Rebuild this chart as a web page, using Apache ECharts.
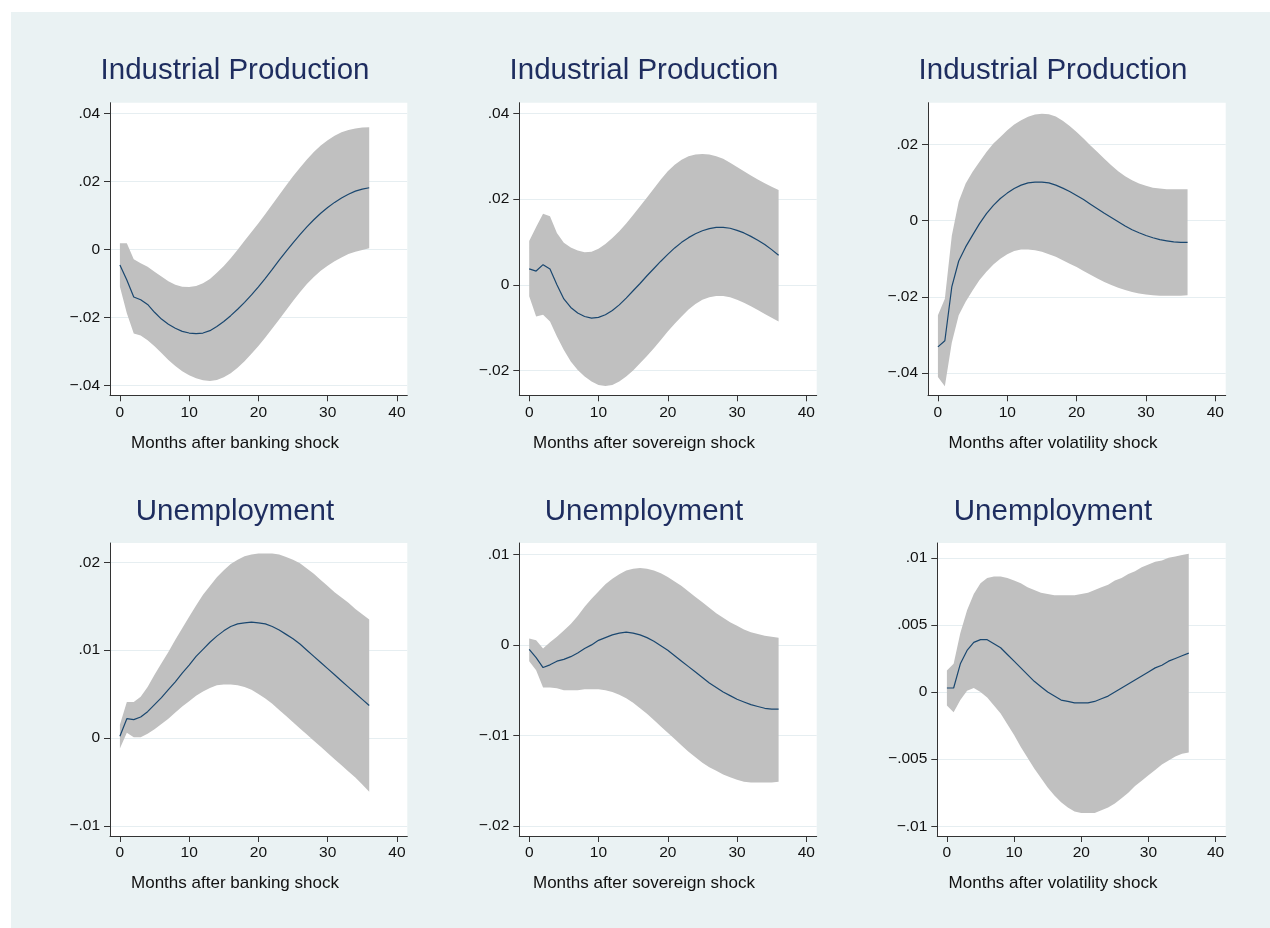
<!DOCTYPE html>
<html>
<head>
<meta charset="utf-8">
<title>Impulse responses</title>
<script src="https://cdn.jsdelivr.net/npm/echarts@6/dist/echarts.min.js"></script>
<style>
  html, body { margin: 0; padding: 0; background: #fff; }
  #chart {
    width: 1270px; height: 928px;
    background: linear-gradient(#eaf2f3, #eaf2f3) 11px 12px / 1259px 916px no-repeat, #fff;
  }
</style>
</head>
<body>
<div id="chart"></div>
<script>
// Horizon (months after the shock)
const months = [0, 1, 2, 3, 4, 5, 6, 7, 8, 9, 10, 11, 12, 13, 14, 15, 16, 17, 18,
  19, 20, 21, 22, 23, 24, 25, 26, 27, 28, 29, 30, 31, 32, 33, 34, 35, 36];

// Industrial production, banking shock
const ipBankIrf = [-0.0046, -0.0090, -0.0140, -0.0148, -0.0162, -0.0185, -0.0205, -0.0220, -0.0232, -0.0241, -0.0246, -0.0248, -0.0246, -0.0239, -0.0227, -0.0212, -0.0195, -0.0176, -0.0156, -0.0134, -0.0110, -0.0085, -0.0059, -0.0032, -0.0006, 0.0019, 0.0043, 0.0066, 0.0087, 0.0106, 0.0123, 0.0138, 0.0151, 0.0162, 0.0171, 0.0177, 0.0181];
const ipBankHi = [0.0018, 0.0018, -0.0029, -0.0041, -0.0051, -0.0066, -0.0080, -0.0094, -0.0104, -0.0110, -0.0111, -0.0108, -0.0100, -0.0087, -0.0069, -0.0049, -0.0026, -0.0001, 0.0025, 0.0051, 0.0077, 0.0104, 0.0132, 0.0160, 0.0188, 0.0215, 0.0240, 0.0264, 0.0286, 0.0305, 0.0321, 0.0334, 0.0344, 0.0351, 0.0355, 0.0358, 0.0359];
const ipBankLo = [-0.0110, -0.0188, -0.0247, -0.0253, -0.0267, -0.0285, -0.0305, -0.0325, -0.0343, -0.0358, -0.0370, -0.0379, -0.0385, -0.0387, -0.0384, -0.0376, -0.0364, -0.0348, -0.0329, -0.0307, -0.0284, -0.0259, -0.0233, -0.0206, -0.0179, -0.0152, -0.0126, -0.0102, -0.0081, -0.0063, -0.0048, -0.0035, -0.0024, -0.0014, -0.0007, -0.0002, 0.0003];

// Industrial production, sovereign shock
const ipSovIrf = [0.0037, 0.0032, 0.0047, 0.0037, 0.0000, -0.0033, -0.0053, -0.0066, -0.0074, -0.0078, -0.0076, -0.0070, -0.0060, -0.0047, -0.0031, -0.0014, 0.0003, 0.0021, 0.0038, 0.0055, 0.0071, 0.0086, 0.0099, 0.0110, 0.0119, 0.0126, 0.0131, 0.0134, 0.0134, 0.0132, 0.0127, 0.0121, 0.0113, 0.0104, 0.0094, 0.0082, 0.0069];
const ipSovHi = [0.0102, 0.0135, 0.0166, 0.0160, 0.0121, 0.0098, 0.0087, 0.0080, 0.0076, 0.0077, 0.0084, 0.0095, 0.0109, 0.0125, 0.0143, 0.0163, 0.0183, 0.0204, 0.0225, 0.0246, 0.0265, 0.0280, 0.0292, 0.0300, 0.0304, 0.0305, 0.0304, 0.0300, 0.0294, 0.0285, 0.0275, 0.0265, 0.0255, 0.0246, 0.0237, 0.0229, 0.0221];
const ipSovLo = [-0.0027, -0.0074, -0.0070, -0.0086, -0.0121, -0.0152, -0.0179, -0.0199, -0.0214, -0.0226, -0.0234, -0.0236, -0.0234, -0.0226, -0.0214, -0.0200, -0.0183, -0.0166, -0.0148, -0.0129, -0.0109, -0.0091, -0.0074, -0.0058, -0.0045, -0.0035, -0.0029, -0.0026, -0.0026, -0.0029, -0.0035, -0.0042, -0.0050, -0.0059, -0.0068, -0.0077, -0.0086];

// Industrial production, volatility shock
const ipVolIrf = [-0.0331, -0.0315, -0.0174, -0.0106, -0.0069, -0.0038, -0.0008, 0.0018, 0.0040, 0.0058, 0.0072, 0.0084, 0.0093, 0.0099, 0.0101, 0.0101, 0.0099, 0.0093, 0.0085, 0.0076, 0.0066, 0.0055, 0.0043, 0.0031, 0.0019, 0.0008, -0.0003, -0.0014, -0.0024, -0.0032, -0.0039, -0.0045, -0.0050, -0.0053, -0.0056, -0.0057, -0.0057];
const ipVolHi = [-0.0248, -0.0205, -0.0040, 0.0050, 0.0097, 0.0128, 0.0154, 0.0180, 0.0202, 0.0219, 0.0237, 0.0252, 0.0263, 0.0272, 0.0278, 0.0280, 0.0279, 0.0273, 0.0262, 0.0248, 0.0232, 0.0215, 0.0197, 0.0180, 0.0162, 0.0145, 0.0129, 0.0116, 0.0106, 0.0097, 0.0091, 0.0086, 0.0084, 0.0082, 0.0082, 0.0082, 0.0082];
const ipVolLo = [-0.0410, -0.0434, -0.0320, -0.0248, -0.0213, -0.0183, -0.0156, -0.0134, -0.0115, -0.0100, -0.0088, -0.0080, -0.0076, -0.0076, -0.0078, -0.0082, -0.0088, -0.0095, -0.0104, -0.0113, -0.0122, -0.0132, -0.0142, -0.0152, -0.0161, -0.0169, -0.0176, -0.0182, -0.0187, -0.0191, -0.0194, -0.0196, -0.0197, -0.0197, -0.0197, -0.0197, -0.0196];

// Unemployment, banking shock
const unBankIrf = [0.0002, 0.0022, 0.0021, 0.0024, 0.0030, 0.0038, 0.0046, 0.0055, 0.0064, 0.0074, 0.0083, 0.0093, 0.0101, 0.0109, 0.0116, 0.0122, 0.0127, 0.0130, 0.0131, 0.0132, 0.0131, 0.0130, 0.0127, 0.0123, 0.0118, 0.0113, 0.0107, 0.0100, 0.0093, 0.0086, 0.0079, 0.0072, 0.0065, 0.0058, 0.0051, 0.0044, 0.0037];
const unBankHi = [0.0015, 0.0041, 0.0041, 0.0047, 0.0058, 0.0072, 0.0085, 0.0098, 0.0112, 0.0125, 0.0138, 0.0151, 0.0163, 0.0173, 0.0183, 0.0191, 0.0198, 0.0203, 0.0207, 0.0209, 0.0210, 0.0210, 0.0210, 0.0209, 0.0206, 0.0203, 0.0199, 0.0193, 0.0187, 0.0180, 0.0173, 0.0166, 0.0160, 0.0154, 0.0147, 0.0141, 0.0135];
const unBankLo = [-0.0012, 0.0006, 0.0001, 0.0001, 0.0005, 0.0010, 0.0016, 0.0022, 0.0029, 0.0036, 0.0042, 0.0048, 0.0053, 0.0057, 0.0060, 0.0061, 0.0061, 0.0060, 0.0058, 0.0055, 0.0050, 0.0045, 0.0039, 0.0032, 0.0025, 0.0018, 0.0011, 0.0004, -0.0003, -0.0010, -0.0017, -0.0024, -0.0031, -0.0038, -0.0045, -0.0053, -0.0061];

// Unemployment, sovereign shock
const unSovIrf = [-0.0005, -0.0014, -0.0025, -0.0022, -0.0018, -0.0016, -0.0013, -0.0009, -0.0004, 0.0000, 0.0005, 0.0008, 0.0011, 0.0013, 0.0014, 0.0013, 0.0011, 0.0008, 0.0004, -0.0001, -0.0006, -0.0012, -0.0018, -0.0024, -0.0030, -0.0036, -0.0042, -0.0047, -0.0052, -0.0056, -0.0060, -0.0063, -0.0066, -0.0068, -0.0070, -0.0071, -0.0071];
const unSovHi = [0.0007, 0.0005, -0.0004, 0.0003, 0.0009, 0.0016, 0.0023, 0.0032, 0.0042, 0.0051, 0.0059, 0.0067, 0.0073, 0.0078, 0.0082, 0.0084, 0.0085, 0.0084, 0.0082, 0.0079, 0.0075, 0.0070, 0.0065, 0.0059, 0.0053, 0.0047, 0.0041, 0.0035, 0.0030, 0.0025, 0.0021, 0.0017, 0.0014, 0.0012, 0.0010, 0.0009, 0.0008];
const unSovLo = [-0.0018, -0.0028, -0.0047, -0.0047, -0.0048, -0.0050, -0.0050, -0.0050, -0.0049, -0.0049, -0.0049, -0.0050, -0.0052, -0.0055, -0.0059, -0.0064, -0.0070, -0.0076, -0.0083, -0.0090, -0.0097, -0.0104, -0.0111, -0.0118, -0.0124, -0.0130, -0.0135, -0.0139, -0.0143, -0.0146, -0.0149, -0.0151, -0.0152, -0.0152, -0.0152, -0.0152, -0.0151];

// Unemployment, volatility shock
const unVolIrf = [0.0003, 0.0003, 0.0021, 0.0031, 0.0037, 0.0039, 0.0039, 0.0036, 0.0033, 0.0028, 0.0023, 0.0018, 0.0013, 0.0008, 0.0004, 0.0000, -0.0003, -0.0006, -0.0007, -0.0008, -0.0008, -0.0008, -0.0007, -0.0005, -0.0003, 0.0000, 0.0003, 0.0006, 0.0009, 0.0012, 0.0015, 0.0018, 0.0020, 0.0023, 0.0025, 0.0027, 0.0029];
const unVolHi = [0.0016, 0.0021, 0.0044, 0.0061, 0.0073, 0.0081, 0.0085, 0.0086, 0.0086, 0.0085, 0.0083, 0.0081, 0.0078, 0.0076, 0.0074, 0.0073, 0.0072, 0.0072, 0.0072, 0.0072, 0.0073, 0.0074, 0.0076, 0.0078, 0.0080, 0.0083, 0.0085, 0.0088, 0.0090, 0.0093, 0.0095, 0.0097, 0.0098, 0.0100, 0.0101, 0.0102, 0.0103];
const unVolLo = [-0.0010, -0.0015, -0.0006, 0.0001, 0.0003, 0.0000, -0.0004, -0.0010, -0.0016, -0.0024, -0.0032, -0.0041, -0.0049, -0.0057, -0.0064, -0.0071, -0.0077, -0.0082, -0.0086, -0.0089, -0.0090, -0.0090, -0.0090, -0.0088, -0.0086, -0.0083, -0.0079, -0.0075, -0.0070, -0.0066, -0.0062, -0.0058, -0.0054, -0.0051, -0.0048, -0.0046, -0.0045];

// Tick values
const monthTicks = [0, 10, 20, 30, 40];
const ipBankTicks = [-0.04, -0.02, 0, 0.02, 0.04];
const ipSovTicks = [-0.02, 0, 0.02, 0.04];
const ipVolTicks = [-0.04, -0.02, 0, 0.02];
const unBankTicks = [-0.01, 0, 0.01, 0.02];
const unSovTicks = [-0.02, -0.01, 0, 0.01];
const unVolTicks = [-0.01, -0.005, 0, 0.005, 0.01];

// Text
const titleIP = 'Industrial Production';
const titleUN = 'Unemployment';
const xNameBank = 'Months after banking shock';
const xNameSov = 'Months after sovereign shock';
const xNameVol = 'Months after volatility shock';

const FONT = '"Liberation Sans", Arial, Helvetica, sans-serif';
const TITLE_COLOR = '#1e2d5f';
const LINE_COLOR = '#1a476f';
const BAND_COLOR = '#c0c0c0';
const AXIS_COLOR = '#333333';
const GRIDLINE_COLOR = '#e6eef1';

// Panel layout: plot rectangle, y extent, title/axis-name anchors
const panels = [
  { title: titleIP, xName: xNameBank, irf: ipBankIrf, lo: ipBankLo, hi: ipBankHi, ticks: ipBankTicks,
    yMin: -0.0429, yMax: 0.0431, left: 110, top: 102.7, width: 297.3, height: 292.6, cx: 235, titleY: 71, nameY: 443 },
  { title: titleIP, xName: xNameSov, irf: ipSovIrf, lo: ipSovLo, hi: ipSovHi, ticks: ipSovTicks,
    yMin: -0.0258, yMax: 0.0425, left: 519.3, top: 102.7, width: 297.4, height: 292.6, cx: 644, titleY: 71, nameY: 443 },
  { title: titleIP, xName: xNameVol, irf: ipVolIrf, lo: ipVolLo, hi: ipVolHi, ticks: ipVolTicks,
    yMin: -0.0458, yMax: 0.0309, left: 928, top: 102.7, width: 297.7, height: 292.6, cx: 1053, titleY: 71, nameY: 443 },
  { title: titleUN, xName: xNameBank, irf: unBankIrf, lo: unBankLo, hi: unBankHi, ticks: unBankTicks,
    yMin: -0.01115, yMax: 0.0222, left: 110, top: 543, width: 297.3, height: 293, cx: 235, titleY: 511.5, nameY: 883 },
  { title: titleUN, xName: xNameSov, irf: unSovIrf, lo: unSovLo, hi: unSovHi, ticks: unSovTicks,
    yMin: -0.0211, yMax: 0.01125, left: 519.3, top: 543, width: 297.4, height: 293, cx: 644, titleY: 511.5, nameY: 883 },
  { title: titleUN, xName: xNameVol, irf: unVolIrf, lo: unVolLo, hi: unVolHi, ticks: unVolTicks,
    yMin: -0.01072, yMax: 0.0111, left: 937.3, top: 543, width: 288.4, height: 293, cx: 1053, titleY: 511.5, nameY: 883 }
];

// Stata-style numbers: no leading zero, true minus sign
function tickText(v) {
  if (v === 0) return '0';
  const s = String(Math.abs(v)).replace(/^0(?=\.)/, '');
  return (v < 0 ? '\u2212' : '') + s;
}

// Confidence band drawn as one polygon: upper edge forward, lower edge back
function bandItem(params, api) {
  if (params.dataIndexInside !== 0) return null;
  const n = params.dataInsideLength;
  const upper = [], lower = [];
  for (let i = 0; i < n; i++) {
    const m = api.value(0, i);
    upper.push(api.coord([m, api.value(2, i)]));
    lower.push(api.coord([m, api.value(1, i)]));
  }
  return {
    type: 'polygon',
    shape: { points: upper.concat(lower.reverse()) },
    style: { fill: BAND_COLOR, stroke: null }
  };
}

const grids = [], xAxes = [], yAxes = [], series = [], texts = [];

panels.forEach((p, i) => {
  grids.push({
    left: p.left, top: p.top, width: p.width, height: p.height,
    show: true, backgroundColor: '#ffffff', borderWidth: 0,
    containLabel: false, outerBoundsMode: 'none'
  });
  xAxes.push({
    type: 'value', gridIndex: i, min: -1.43, max: 41.5,
    axisLine: { show: true, onZero: false, lineStyle: { color: AXIS_COLOR, width: 1 } },
    axisTick: { show: true, length: 6, customValues: monthTicks, lineStyle: { color: AXIS_COLOR, width: 1 } },
    axisLabel: { customValues: monthTicks, margin: 9, fontSize: 15.5, fontFamily: FONT, color: '#111' },
    splitLine: { show: false }
  });
  yAxes.push({
    type: 'value', gridIndex: i, min: p.yMin, max: p.yMax,
    axisLine: { show: true, onZero: false, lineStyle: { color: AXIS_COLOR, width: 1 } },
    axisTick: { show: true, length: 6, customValues: p.ticks, lineStyle: { color: AXIS_COLOR, width: 1 } },
    axisLabel: { customValues: p.ticks, formatter: tickText, margin: 10, fontSize: 15.5, fontFamily: FONT, color: '#111' },
    splitLine: { show: true, lineStyle: { color: GRIDLINE_COLOR, width: 1 } }
  });
  series.push({
    type: 'custom', xAxisIndex: i, yAxisIndex: i, silent: true, clip: true, z: 1,
    renderItem: bandItem,
    encode: { x: 0, y: [1, 2] },
    data: months.map((m, k) => [m, p.lo[k], p.hi[k]])
  });
  series.push({
    type: 'line', xAxisIndex: i, yAxisIndex: i, silent: true, z: 2,
    symbol: 'none', smooth: false,
    lineStyle: { color: LINE_COLOR, width: 1.2 },
    data: months.map((m, k) => [m, p.irf[k]])
  });
  texts.push({
    type: 'text', x: p.cx, y: p.titleY, silent: true,
    style: { text: p.title, fontSize: 29.5, fontFamily: FONT, fill: TITLE_COLOR, align: 'center', verticalAlign: 'middle' }
  });
  texts.push({
    type: 'text', x: p.cx, y: p.nameY, silent: true,
    style: { text: p.xName, fontSize: 17, fontFamily: FONT, fill: '#111', align: 'center', verticalAlign: 'middle' }
  });
});

const chart = echarts.init(document.getElementById('chart'), null, { renderer: 'canvas' });
chart.setOption({
  backgroundColor: 'transparent',
  animation: false,
  grid: grids,
  xAxis: xAxes,
  yAxis: yAxes,
  series: series,
  graphic: texts
});
</script>
</body>
</html>
